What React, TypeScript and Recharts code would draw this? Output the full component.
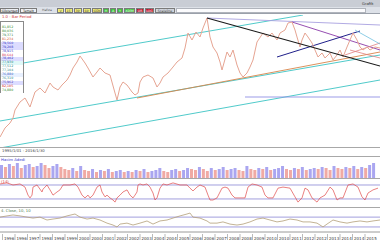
import React from 'react';
import { ComposedChart, Line, Bar, Cell, XAxis, YAxis, ReferenceLine } from 'recharts';

// ---- price (bar index, close level) ----
const priceT = [0,5,10,13,15,20,25,30,35,40,45,50,53,58,62,67,70,73,77,80,85,88,93,97,100,105,110,115,117,120,123,127,132,135,138,140,143,148,153,157,160,163,168,173,177,182,185,188,192,196,200,203,207,210,213,217,220,222,227,230,233,237,240,243,247,250,253,257,263,268,272,277,280,285,288,292,295,297,300,302,305,308,312,315,318,322,325,330,333,337,340,343,347,350,353,357,360,363,367,370,375,380];
const priceClose = [13,22,27,32,40,48,52,43,58,62,57,67,63,60,65,70,75,82,88,94,87,82,73,78,82,77,75,57,50,63,68,65,58,55,57,68,73,75,72,63,67,73,77,83,88,92,102,117,110,118,113,122,132,113,103,97,88,80,98,93,100,85,77,73,77,83,90,108,117,113,117,110,117,120,127,128,120,113,103,110,117,113,107,100,93,97,92,97,90,95,100,93,103,110,117,110,103,100,103,100,103,102];

// ---- trend lines [t1, v1, t2, v2] ----
const trendUpperChannel = [0, 83, 303, 135];
const trendMidChannel = [0, 29, 380, 95];
const trendLowChannel = [0, 2, 380, 70];
const trendSupport = [137, 52, 380, 98];
const trendMajorDown = [207, 132, 380, 84];
const trendTopLine = [207, 132, 380, 125];
const trendSecondDown = [292, 128, 380, 100];
const trendRising = [277, 93, 360, 119];
const trendFlat = [245, 53, 380, 53];
const trendSmallA = [345, 95, 380, 107];
const trendSmallB = [350, 100, 380, 92];
const trendSmallC = [355, 120, 380, 106];

// ---- legend box values ----
const legendValues = ['', '81,852', '80,036', '79,371', '81,234', '79,560', '79,208', '78,915', '80,644', '78,402', '77,930', '77,512', '77,104', '76,880', '76,310', '75,962', '82,105', '74,880'];

// ---- volume ----
const volT = Array.from({ length: 95 }, (_, i) => i * 4);
const volValues = [13,11,14,12,15,10,13,14,11,12,15,13,10,12,14,11,
  9,8,10,7,12,8,7,9,6,8,7,9,6,7,8,6,7,
  6,8,7,9,6,7,8,10,7,6,8,9,7,8,10,
  9,8,11,9,7,10,8,9,11,8,9,10,8,7,12,9,
  8,10,9,11,8,9,10,12,9,8,10,9,11,8,9,10,
  9,11,10,8,12,10,9,11,10,12,9,11,10,13,15];

// ---- RSI ----
const rsiT = [0,7,13,20,25,28,30,32,33,37,42,43,47,50,53,57,60,63,67,70,75,78,82,85,88,90,93,97,100,102,105,107,110,113,115,117,120,123,127,130,133,135,137,138,140,143,147,150,153,155,157,160,163,167,173,180,187,190,193,197,200,205,208,210,213,217,222,225,228,232,235,240,245,248,252,257,262,265,268,273,278,283,290,295,298,302,305,308,312,317,320,325,330,333,337,340,343,348,353,358,362,365,368,373,378];
const rsiValues = [73,76,70,73,64,41,33,41,64,70,50,58,70,56,41,50,56,70,70,70,73,64,41,33,41,33,41,64,70,50,36,41,33,27,21,33,41,50,56,41,33,41,50,70,73,70,73,64,47,27,33,61,73,70,76,70,70,61,53,64,70,64,41,27,27,33,61,64,61,41,33,33,33,64,73,70,64,41,33,33,61,64,61,36,21,33,61,56,33,21,33,41,64,56,27,33,33,70,73,64,36,27,47,56,61];

// ---- momentum oscillator ----
const oscT = [0,7,13,20,27,33,40,47,53,60,67,75,80,87,93,100,107,113,117,120,127,133,140,147,153,160,167,173,180,187,190,193,200,207,210,217,223,230,237,243,250,257,263,270,277,283,290,297,303,310,317,323,327,333,340,347,353,360,367,373,380];
const oscValues = [62,67,71,67,62,58,62,50,54,58,67,75,62,54,58,50,37,29,21,33,37,29,37,46,33,46,50,58,67,75,79,62,58,46,37,37,42,33,29,33,42,54,58,50,42,46,54,50,42,42,37,21,33,50,42,37,42,46,42,46,50];

// ---- time axis ----
const tickLabels = ['1996','1996','1997','1998','1998','1999','2000','2000','2001','2002','2002','2003','2004','2004','2005','2006','2006','2007','2008','2008','2009','2010','2010','2011','2012','2012','2013','2014','2014','2015'];
const tickPos = tickLabels.map((_, i) => 4 + 12.5 * i);

const priceData = priceT.map((t, i) => ({ t, p: priceClose[i] }));
const volData = volT.map((t, i) => ({ t, v: volValues[i] }));
const rsiData = rsiT.map((t, i) => ({ t, r: rsiValues[i] }));
const oscData = oscT.map((t, i) => ({ t, o: oscValues[i] }));

const FONT = '"DejaVu Sans", "Liberation Sans", sans-serif';
const M = { top: 0, right: 0, bottom: 0, left: 0 };

const seg = (s: number[]) => [{ x: s[0], y: s[1] }, { x: s[2], y: s[3] }];

const AxisTick = (props: any) => {
  const { x, y, payload } = props;
  const idx = tickPos.indexOf(payload.value);
  return (
    <g>
      <line x1={x - 1.5} x2={x - 1.5} y1={y} y2={y + 8} stroke="#8c8c8c" strokeWidth={0.6} />
      <text x={x} y={y + 5.5} fontSize={4} fill="#333" fontFamily={FONT}>{tickLabels[idx]}</text>
    </g>
  );
};

const btn = (label: string, bg: string, color: string, w: number) => (
  <div style={{ width: w, height: 5, background: bg, color, fontSize: 3.2, lineHeight: '5px', textAlign: 'center', border: '0.5px solid #7a7a7a', boxSizing: 'border-box', whiteSpace: 'nowrap' }}>{label}</div>
);

const legendColors = ['#333', '#2a8a2a', '#2a8a2a', '#2a7a3a', '#d0502a', '#3030c0', '#3030c0', '#3030c0', '#d03050', '#3030c0', '#208080', '#208080', '#208080', '#3060c0', '#208080', '#5040b0', '#d02020', '#2a8a2a'];
const legendBgs = ['#fff', '#fff', '#fff', '#fff', '#fff', '#dcdcff', '#dcdcff', '#fff', '#fff', '#dcdcff', '#e0f8f8', '#fff', '#fff', '#e8f0ff', '#fff', '#dcdcff', '#fff', '#fff'];

export default function App() {
  return (
    <div style={{ position: 'absolute', left: 0, top: 0, width: 380, height: 240, background: '#ffffff', overflow: 'hidden', fontFamily: FONT }}>
      {/* title strip */}
      <div style={{ position: 'absolute', left: 0, top: 0, width: 380, height: 7, background: '#c9cdd5' }} />
      <div style={{ position: 'absolute', left: 362, top: 1, fontSize: 3.8, lineHeight: '5px', color: '#333' }}>Grafik</div>
      {/* toolbar */}
      <div style={{ position: 'absolute', left: 0, top: 7, width: 380, height: 7, background: '#dde1e8', borderBottom: '1px solid #9aa0aa', boxSizing: 'border-box' }} />
      <div style={{ position: 'absolute', left: 0, top: 8, display: 'flex', gap: 1, alignItems: 'center' }}>
        {btn('Gösterge▾', '#eef0f4', '#222', 19)}
        {btn('Temel▾', '#eef0f4', '#222', 17)}
        <div style={{ width: 18, fontSize: 3.2, lineHeight: '5px', color: '#555', textAlign: 'center' }}>Hafıza</div>
        {btn('V', '#f4f07a', '#333', 7)}
        {btn("15'", '#f4f07a', '#333', 8)}
        {btn("30'", '#f4f07a', '#333', 8)}
        {btn("60'", '#f4f07a', '#333', 8)}
        {btn('GÜN', '#f4f07a', '#333', 10)}
        {btn('H', '#3cc23c', '#fff', 6)}
        {btn('A', '#3cc23c', '#fff', 6)}
        {btn('Y', '#3cc23c', '#fff', 6)}
        {btn('XDİM', '#3cc23c', '#fff', 11)}
        {btn('OR', '#c0142c', '#fff', 8)}
        {btn('LOG', '#c0142c', '#fff', 9)}
        {btn('Scaleline', '#d0d4dc', '#444', 20)}
        <div style={{ width: 190, height: 5, background: '#fbfbfd', border: '0.5px solid #b0b4bc', boxSizing: 'border-box' }} />
      </div>
      <div style={{ position: 'absolute', left: 2, top: 14, fontSize: 3.8, lineHeight: '5px', color: '#d03030' }}>1.0 - Bar Period</div>

      {/* main price pane */}
      <div style={{ position: 'absolute', left: 0, top: 15 }}>
        <ComposedChart width={380} height={133} data={priceData} margin={M}>
          <XAxis type="number" dataKey="t" domain={[0, 380]} hide />
          <YAxis type="number" domain={[2, 135]} hide />
          <ReferenceLine segment={seg(trendUpperChannel)} stroke="#3cc4c4" strokeWidth={0.9} ifOverflow="hidden" />
          <ReferenceLine segment={seg(trendMidChannel)} stroke="#3cc4c4" strokeWidth={0.9} ifOverflow="hidden" />
          <ReferenceLine segment={seg(trendLowChannel)} stroke="#3cc4c4" strokeWidth={0.9} ifOverflow="hidden" />
          <ReferenceLine segment={seg(trendSupport)} stroke="#d8844a" strokeWidth={0.9} ifOverflow="hidden" />
          <ReferenceLine segment={seg(trendFlat)} stroke="#9090e4" strokeWidth={0.9} ifOverflow="hidden" />
          <ReferenceLine segment={seg(trendTopLine)} stroke="#a8a0e0" strokeWidth={0.9} ifOverflow="hidden" />
          <ReferenceLine segment={seg(trendSecondDown)} stroke="#8a3aa8" strokeWidth={0.9} ifOverflow="hidden" />
          <ReferenceLine segment={seg(trendRising)} stroke="#20208a" strokeWidth={1} ifOverflow="hidden" />
          <ReferenceLine segment={seg(trendSmallA)} stroke="#e08080" strokeWidth={0.8} ifOverflow="hidden" />
          <ReferenceLine segment={seg(trendSmallB)} stroke="#e08080" strokeWidth={0.8} ifOverflow="hidden" />
          <ReferenceLine segment={seg(trendSmallC)} stroke="#70c0e0" strokeWidth={0.8} ifOverflow="hidden" />
          <Line type="linear" dataKey="p" stroke="#e6a492" strokeWidth={1} dot={false} isAnimationActive={false} />
          <ReferenceLine segment={seg(trendMajorDown)} stroke="#1a1a1a" strokeWidth={1.1} ifOverflow="hidden" />
        </ComposedChart>
      </div>

      {/* legend box */}
      <div style={{ position: 'absolute', left: 0, top: 21, width: 24, height: 72, background: '#fff', border: '0.6px solid #8a8a8a', boxSizing: 'border-box' }}>
        {legendValues.map((v, i) => (
          <div key={i} style={{ height: 3.95, lineHeight: '3.95px', fontSize: 3.2, color: legendColors[i], background: legendBgs[i], paddingLeft: 1, whiteSpace: 'nowrap' }}>{v}</div>
        ))}
      </div>

      {/* separators */}
      <div style={{ position: 'absolute', left: 0, top: 147, width: 380, height: 0, borderTop: '1px solid #a8a8a8' }} />
      <div style={{ position: 'absolute', left: 2, top: 148, fontSize: 3.8, lineHeight: '5px', color: '#444' }}>1995/1/01 - 2016/1/30</div>
      <div style={{ position: 'absolute', left: 0, top: 156, width: 380, height: 0, borderTop: '1px solid #a8a8a8' }} />
      <div style={{ position: 'absolute', left: 1, top: 157, fontSize: 3.8, lineHeight: '5px', color: '#3a3ad0' }}>Hacim Adedi</div>

      {/* volume pane */}
      <div style={{ position: 'absolute', left: 0, top: 158 }}>
        <ComposedChart width={380} height={20} data={volData} margin={M}>
          <XAxis type="number" dataKey="t" domain={[-2, 382]} hide />
          <YAxis type="number" domain={[0, 20]} hide />
          <Bar dataKey="v" barSize={3} isAnimationActive={false}>
            {volData.map((d, i) => (
              <Cell key={i} fill={i > 0 && d.v < volData[i - 1].v ? '#f0aaa4' : '#aaa6f0'} />
            ))}
          </Bar>
        </ComposedChart>
      </div>
      <div style={{ position: 'absolute', left: 0, top: 178, width: 380, height: 0, borderTop: '1px solid #a8a8a8' }} />
      <div style={{ position: 'absolute', left: 1, top: 179, fontSize: 3.8, lineHeight: '5px', color: '#d04040' }}>(14)</div>

      {/* RSI pane */}
      <div style={{ position: 'absolute', left: 0, top: 178 }}>
        <ComposedChart width={380} height={29} data={rsiData} margin={M}>
          <XAxis type="number" dataKey="t" domain={[0, 380]} hide />
          <YAxis type="number" domain={[7, 90]} hide />
          <ReferenceLine y={70} stroke="#8a86d4" strokeWidth={0.8} />
          <ReferenceLine y={30} stroke="#8a86d4" strokeWidth={0.8} />
          <Line type="linear" dataKey="r" stroke="#e04a4a" strokeWidth={0.7} dot={false} isAnimationActive={false} />
        </ComposedChart>
      </div>
      <div style={{ position: 'absolute', left: 0, top: 207, width: 380, height: 0, borderTop: '1px solid #a8a8a8' }} />
      <div style={{ position: 'absolute', left: 1, top: 208, fontSize: 3.8, lineHeight: '5px', color: '#4a7a4a' }}>4. Close, 10, 10</div>

      {/* oscillator pane + time axis */}
      <div style={{ position: 'absolute', left: 0, top: 208 }}>
        <ComposedChart width={380} height={32} data={oscData} margin={M}>
          <XAxis type="number" dataKey="t" domain={[0, 380]} ticks={tickPos} tick={<AxisTick />} tickLine={false} tickSize={0} axisLine={{ stroke: '#9a9a9a' }} height={8} interval={0} />
          <YAxis type="number" domain={[0, 100]} hide />
          <ReferenceLine y={62} stroke="#8a86d4" strokeWidth={0.8} />
          <ReferenceLine y={21} stroke="#8a86d4" strokeWidth={0.8} />
          <Line type="linear" dataKey="o" stroke="#b4a078" strokeWidth={0.8} dot={false} isAnimationActive={false} />
        </ComposedChart>
      </div>
    </div>
  );
}
